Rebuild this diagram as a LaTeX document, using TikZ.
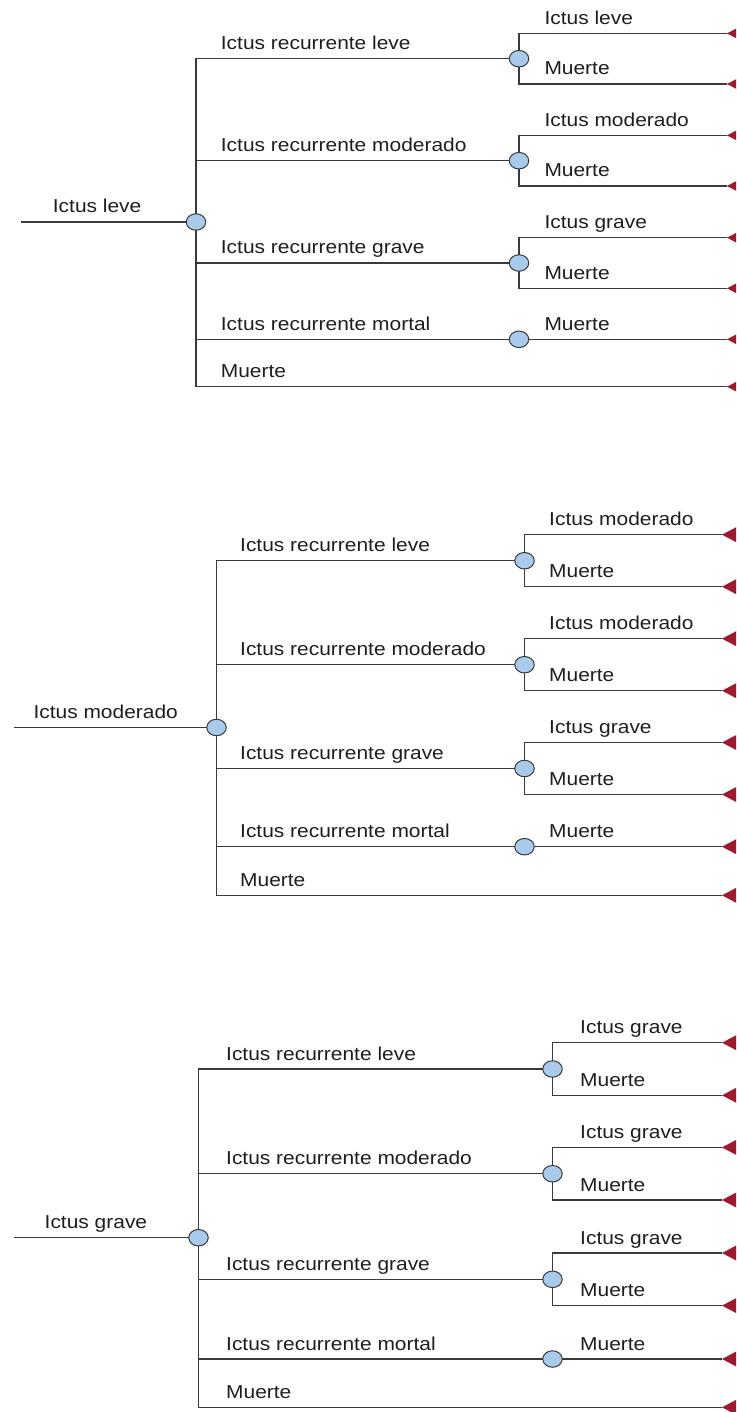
\documentclass[tikz,border=0pt]{standalone}
\usepackage{fontspec}
\setmainfont{Liberation Sans}[FakeStretch=1.12]
\usetikzlibrary{shapes.geometric,backgrounds}
\definecolor{lincol}{HTML}{3A3A3A}
\definecolor{chfill}{HTML}{A9CBEB}
\definecolor{termcol}{HTML}{9E1B2F}
\definecolor{txtcol}{HTML}{1E1E1E}
\tikzset{
  chance/.style={ellipse, draw=lincol, fill=chfill, line width=1pt,
    minimum width=19.5pt, minimum height=16.5pt, inner sep=0pt},
  branch/.style={draw=lincol, line width=1.2pt},
  lab/.style={anchor=base west, inner sep=0pt, text=txtcol,
    font=\fontsize{18.7}{22}\selectfont},
  termtri/.style={fill=termcol}
}
% #1 id, #2 main x, #3 root y, #4..#8 branch y, #9 sub x
\newcommand\dtree[9]{%
  \node[chance] (c#1) at (#2,#3) {};
  \node[chance] (c#1a) at (#9,#4) {};
  \node[chance] (c#1b) at (#9,#5) {};
  \node[chance] (c#1c) at (#9,#6) {};
  \node[chance] (c#1d) at (#9,#7) {};
  \coordinate (r#1) at (\rootx,#3);
  \coordinate (t#1a1) at (\tipx,#4-\subd);
  \coordinate (t#1a2) at (\tipx,#4+\subd);
  \coordinate (t#1b1) at (\tipx,#5-\subd);
  \coordinate (t#1b2) at (\tipx,#5+\subd);
  \coordinate (t#1c1) at (\tipx,#6-\subd);
  \coordinate (t#1c2) at (\tipx,#6+\subd);
  \coordinate (t#1d) at (\tipx,#7);
  \coordinate (t#1e) at (\tipx,#8);
  \begin{scope}[on background layer]
    \draw[branch] (r#1) -- (c#1.center);
    \draw[branch] (c#1.center) |- (c#1a.center);
    \draw[branch] (c#1.center) |- (c#1b.center);
    \draw[branch] (c#1.center) |- (c#1c.center);
    \draw[branch] (c#1.center) |- (c#1d.center);
    \draw[branch] (c#1.center) |- (t#1e);
    \draw[branch] (c#1a.center) |- (t#1a1);
    \draw[branch] (c#1a.center) |- (t#1a2);
    \draw[branch] (c#1b.center) |- (t#1b1);
    \draw[branch] (c#1b.center) |- (t#1b2);
    \draw[branch] (c#1c.center) |- (t#1c1);
    \draw[branch] (c#1c.center) |- (t#1c2);
    \draw[branch] (c#1d.center) -- (t#1d);
  \end{scope}
  \foreach \tt in {t#1a1,t#1a2,t#1b1,t#1b2,t#1c1,t#1c2,t#1d,t#1e}
    \fill[termtri] (\tt) -- ++(18,-9.5) -- ++(0,19) -- cycle;
  \node[lab] (lr#1) at (\rootlabx,#3-9) {\rootlab};
  \node[lab] (l#1a) at (\labx,#4-9) {Ictus recurrente leve};
  \node[lab] (l#1b) at (\labx,#5-9) {Ictus recurrente moderado};
  \node[lab] (l#1c) at (\labx,#6-9) {Ictus recurrente grave};
  \node[lab] (l#1d) at (\labx,#7-9) {Ictus recurrente mortal};
  \node[lab] (l#1e) at (\labx,#8-9) {Muerte};
  \node[lab] (s#1a1) at (\sublabx,#4-\subd-9) {\subA};
  \node[lab] (s#1a2) at (\sublabx,#4+\subd-9) {Muerte};
  \node[lab] (s#1b1) at (\sublabx,#5-\subd-9) {\subB};
  \node[lab] (s#1b2) at (\sublabx,#5+\subd-9) {Muerte};
  \node[lab] (s#1c1) at (\sublabx,#6-\subd-9) {\subC};
  \node[lab] (s#1c2) at (\sublabx,#6+\subd-9) {Muerte};
  \node[lab] (s#1d) at (\sublabx,#7-9) {Muerte};
}
\begin{document}
\begin{tikzpicture}[x=1pt,y=-1pt]
\useasboundingbox (0,0) rectangle (736,1412);
\clip (0,0) rectangle (736,1412);
% Tree 1
\def\rootx{21}\def\rootlabx{52.7}\def\rootlab{Ictus leve}
\def\labx{220.7}\def\sublabx{544.3}\def\tipx{727}\def\subd{25.3}
\def\subA{Ictus leve}\def\subB{Ictus moderado}\def\subC{Ictus grave}
\dtree{1}{196}{222}{58.7}{160.7}{263}{339.3}{386.7}{519}
% Tree 2
\def\rootx{13.5}\def\rootlabx{33.3}\def\rootlab{Ictus moderado}
\def\labx{240}\def\sublabx{549}\def\tipx{722}\def\subd{26}
\def\subA{Ictus moderado}\def\subB{Ictus moderado}\def\subC{Ictus grave}
\dtree{2}{216.5}{727.5}{560.7}{664.7}{768.5}{846.7}{895.3}{524.5}
% Tree 3
\def\rootx{13.8}\def\rootlabx{44.5}\def\rootlab{Ictus grave}
\def\labx{226}\def\sublabx{580}\def\tipx{722}\def\subd{26.3}
\def\subA{Ictus grave}\def\subB{Ictus grave}\def\subC{Ictus grave}
\dtree{3}{198.5}{1237.7}{1069}{1173.7}{1279.3}{1359}{1407.3}{552.5}
\end{tikzpicture}
\end{document}
